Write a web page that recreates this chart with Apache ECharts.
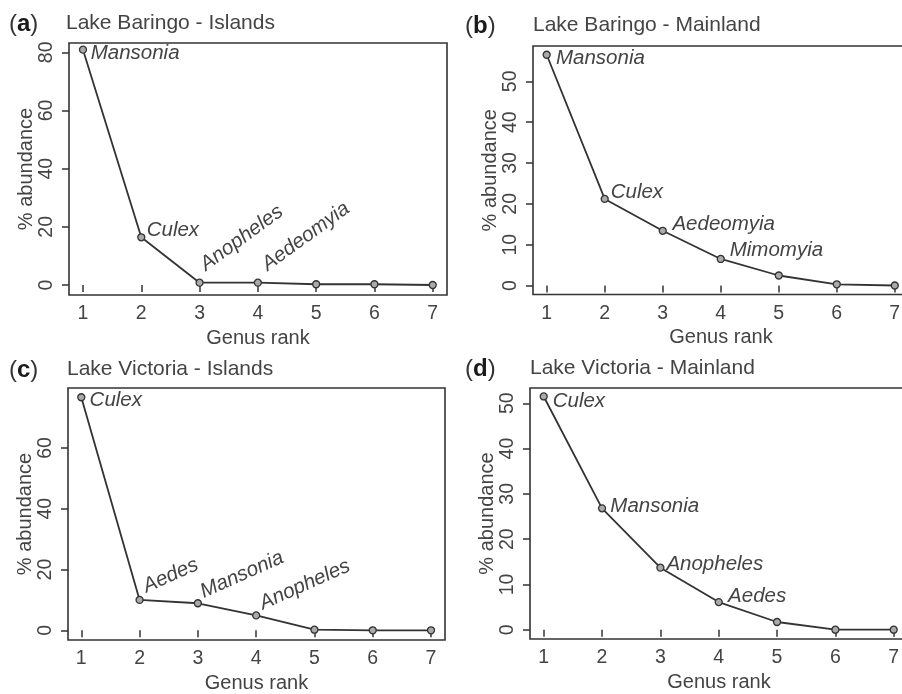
<!DOCTYPE html>
<html><head><meta charset="utf-8">
<script src="https://cdn.jsdelivr.net/npm/echarts@6.0.0/dist/echarts.min.js"></script>
<style>html,body{margin:0;padding:0;background:#fff}#c{width:902px;height:694px}</style>
</head><body><div id="c"></div>
<script>
// ---- data ----
const ranks = [1, 2, 3, 4, 5, 6, 7];
const baringoIslands   = [80.9, 16.4, 0.8, 0.8, 0.25, 0.25, 0];
const baringoMainland  = [56.5, 21.2, 13.4, 6.5, 2.45, 0.3, 0];
const victoriaIslands  = [76.7, 10.0, 8.9, 4.9, 0.2, 0, 0];
const victoriaMainland = [51.5, 26.8, 13.7, 6.1, 1.7, 0, 0];
const generaBaringoIslands   = ['Mansonia', 'Culex', 'Anopheles', 'Aedeomyia'];
const generaBaringoMainland  = ['Mansonia', 'Culex', 'Aedeomyia', 'Mimomyia'];
const generaVictoriaIslands  = ['Culex', 'Aedes', 'Mansonia', 'Anopheles'];
const generaVictoriaMainland = ['Culex', 'Mansonia', 'Anopheles', 'Aedes'];
const panelLetters = ['a', 'b', 'c', 'd'];
const panelTitles = ['Lake Baringo - Islands', 'Lake Baringo - Mainland', 'Lake Victoria - Islands', 'Lake Victoria - Mainland'];
const xTicks = [1, 2, 3, 4, 5, 6, 7];
const yTicksBaringoIslands = [0, 20, 40, 60, 80];
const yTicksBaringoMainland = [0, 10, 20, 30, 40, 50];
const yTicksVictoriaIslands = [0, 20, 40, 60];
const yTicksVictoriaMainland = [0, 10, 20, 30, 40, 50];
const xName = 'Genus rank';
const yName = '% abundance';

const values = [baringoIslands, baringoMainland, victoriaIslands, victoriaMainland];
const genera = [generaBaringoIslands, generaBaringoMainland, generaVictoriaIslands, generaVictoriaMainland];
const yTicks = [yTicksBaringoIslands, yTicksBaringoMainland, yTicksVictoriaIslands, yTicksVictoriaMainland];

// ---- layout / style ----
const FONT = '"Liberation Sans", Arial, Helvetica, sans-serif';
const TXT = '#444';
const INK = '#333';
const layout = [
  { grid: {left: 69, top: 43, width: 378, height: 252}, x: [0.76, 7.245], y: [-3.44, 83.2],
    letter: [9, 12], title: [66, 13],
    lab: [[7.7, 4, 0], [5.4, -6.6, 0], [3, -16, 36], [6.5, -16, 36]] },
  { grid: {left: 533, top: 46, width: 376, height: 248.5}, x: [0.764, 7.245], y: [-2.2, 58.64],
    letter: [465, 14], title: [533, 15],
    lab: [[9.3, 3.5, 0], [6, -6.5, 0], [9.7, -6.5, 0], [9, -8.2, 0]] },
  { grid: {left: 68, top: 388, width: 377, height: 252}, x: [0.772, 7.24], y: [-3.19, 79.75],
    letter: [9, 358], title: [67, 359],
    lab: [[8.3, 3, 0], [4.5, -12.5, 24], [3.5, -10.5, 24], [4.5, -11, 24]] },
  { grid: {left: 530, top: 388, width: 378, height: 251}, x: [0.765, 7.245], y: [-2.05, 53.37],
    letter: [465, 357], title: [530, 358],
    lab: [[9, 5, 0], [8.3, -2.3, 0], [6, -3.2, 0], [9.4, -5.5, 0]] }
];

function labelOffset(dx, dy, deg) {
  const t = deg * Math.PI / 180, c = Math.cos(t), s = Math.sin(t);
  return [dx * c - dy * s, dx * s + dy * c];
}

const grids = [], xAxes = [], yAxes = [], series = [], titles = [];
layout.forEach((L, i) => {
  grids.push(Object.assign({show: true, borderColor: INK, borderWidth: 1.6, backgroundColor: 'transparent',
    containLabel: false, outerBoundsMode: 'none'}, L.grid));
  xAxes.push({
    type: 'value', gridIndex: i, min: L.x[0], max: L.x[1],
    axisLine: {show: false}, splitLine: {show: false},
    axisTick: {show: true, customValues: xTicks, length: 7, lineStyle: {color: INK, width: 1.5}},
    axisLabel: {customValues: xTicks, margin: 9, fontSize: 19.5, color: TXT, fontFamily: FONT},
    name: xName, nameLocation: 'middle', nameGap: 33,
    nameTextStyle: {fontSize: 20, color: TXT, fontFamily: FONT}
  });
  yAxes.push({
    type: 'value', gridIndex: i, min: L.y[0], max: L.y[1],
    axisLine: {show: false}, splitLine: {show: false},
    axisTick: {show: true, customValues: yTicks[i], length: 7, lineStyle: {color: INK, width: 1.5}},
    axisLabel: {customValues: yTicks[i], rotate: 90, margin: 12, fontSize: 19.5, color: TXT, fontFamily: FONT},
    name: yName, nameLocation: 'middle', nameGap: 32,
    nameTextStyle: {fontSize: 20, color: TXT, fontFamily: FONT}
  });
  series.push({
    type: 'line', xAxisIndex: i, yAxisIndex: i,
    symbol: 'circle', symbolSize: 7,
    lineStyle: {color: INK, width: 1.8},
    itemStyle: {color: '#aaa', borderColor: INK, borderWidth: 1.3},
    label: {show: false},
    emphasis: {disabled: true},
    data: ranks.map((r, k) => {
      const item = {value: [r, values[i][k]]};
      if (k < genera[i].length) {
        const p = L.lab[k];
        item.label = {
          show: true, formatter: genera[i][k], position: 'inside',
          align: 'left', verticalAlign: 'middle',
          rotate: p[2], offset: labelOffset(p[0], p[1], p[2]),
          fontSize: 20.5, fontStyle: 'italic', color: TXT, fontFamily: FONT
        };
      }
      return item;
    })
  });
  titles.push({
    left: L.letter[0], top: L.letter[1], padding: 0,
    text: '{p|(}{b|' + panelLetters[i] + '}{p|)}',
    textStyle: {rich: {
      p: {fontSize: 24, color: '#333', fontWeight: 'normal', fontFamily: FONT},
      b: {fontSize: 24, color: '#1a1a1a', fontWeight: 'bold', fontFamily: FONT}
    }}
  });
  titles.push({
    left: L.title[0], top: L.title[1], padding: 0, text: panelTitles[i],
    textStyle: {fontSize: 21, fontWeight: 'normal', color: TXT, fontFamily: FONT}
  });
});

const chart = echarts.init(document.getElementById('c'), null, {renderer: 'canvas'});
chart.setOption({
  animation: false,
  backgroundColor: '#fff',
  title: titles,
  grid: grids,
  xAxis: xAxes,
  yAxis: yAxes,
  series: series
});
</script>
</body></html>
